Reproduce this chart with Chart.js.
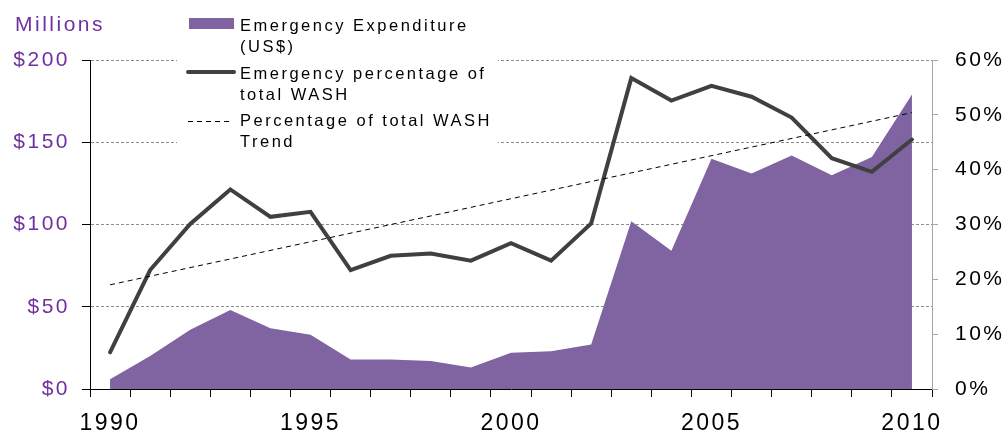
<!DOCTYPE html>
<html>
<head>
<meta charset="utf-8">
<script src="https://cdn.jsdelivr.net/npm/chart.js@4"></script>
<style>
  html, body { margin: 0; padding: 0; background: #fff; }
  #wrap { width: 1008px; height: 434px; }
</style>
</head>
<body>
<div id="wrap"><canvas id="chart" width="1008" height="434"></canvas></div>
<script>
// years on the category axis
const years = ['1990','1991','1992','1993','1994','1995','1996','1997','1998','1999','2000',
               '2001','2002','2003','2004','2005','2006','2007','2008','2009','2010'];

// emergency expenditure, US$ millions (left axis)
const expenditure = [6, 20, 36, 48, 37, 33, 18, 18, 17, 13, 22,
                     23, 27, 102, 84, 140, 131, 142, 130, 141, 179];

// emergency share of total WASH, % (right axis)
const emergencyPct = [6.7, 21.7, 30.1, 36.4, 31.4, 32.3, 21.7, 24.3, 24.7, 23.4, 26.6,
                      23.4, 30.2, 56.7, 52.6, 55.3, 53.3, 49.5, 42.1, 39.6, 45.5];

// trend line end points (right axis)
const trendYears = ['1990', '2010'];
const trendPct = [19.0, 50.4];

// axis tick labels shown on the year axis
const shownYears = ['1990', '1995', '2000', '2005', '2010'];

const legendItems = [
  { kind: 'area', lines: ['Emergency Expenditure', '(US$)'] },
  { kind: 'line', lines: ['Emergency percentage of', 'total WASH'] },
  { kind: 'dash', lines: ['Percentage of total WASH', 'Trend'] }
];

const FONT = "'Liberation Sans', Arial, sans-serif";
const SPACING = '2.5px';
const PURPLE = '#8064A2';
const LABEL_PURPLE = '#7030A0';

// canvas state gets reset on resize, so set letter spacing before every pass
const spacingPlugin = {
  id: 'spacing',
  beforeUpdate(chart) { chart.ctx.letterSpacing = SPACING; },
  beforeLayout(chart) { chart.ctx.letterSpacing = SPACING; },
  beforeDraw(chart) { chart.ctx.letterSpacing = SPACING; }
};

// "Millions" caption and the boxed legend in the top left of the plot
const extrasPlugin = {
  id: 'extras',
  afterDraw(chart) {
    const ctx = chart.ctx;
    ctx.save();
    ctx.letterSpacing = SPACING;
    ctx.font = '21px ' + FONT;
    ctx.fillStyle = LABEL_PURPLE;
    ctx.textAlign = 'left';
    ctx.textBaseline = 'middle';
    ctx.fillText('Millions', 15, 25);

    // white backing hides the grid lines behind the legend
    ctx.fillStyle = '#fff';
    ctx.fillRect(177, 0, 321, 152);

    const rowY = [26, 74, 121];
    ctx.font = '16.5px ' + FONT;
    legendItems.forEach((item, i) => {
      const y = rowY[i];
      if (item.kind === 'area') {
        ctx.fillStyle = PURPLE;
        ctx.fillRect(189, y - 8, 45, 11);
      } else if (item.kind === 'line') {
        ctx.strokeStyle = '#404040';
        ctx.lineWidth = 4;
        ctx.lineCap = 'round';
        ctx.setLineDash([]);
        ctx.beginPath();
        ctx.moveTo(188, y - 2);
        ctx.lineTo(234, y - 2);
        ctx.stroke();
      } else {
        ctx.strokeStyle = '#000';
        ctx.lineWidth = 1;
        ctx.lineCap = 'butt';
        ctx.setLineDash([5, 4]);
        ctx.beginPath();
        ctx.moveTo(188, y + 0.5);
        ctx.lineTo(232, y + 0.5);
        ctx.stroke();
        ctx.setLineDash([]);
      }
      ctx.fillStyle = '#000';
      item.lines.forEach((t, j) => {
        ctx.fillText(t, 240, y + j * 21);
      });
    });
    ctx.restore();
  }
};

const ctx = document.getElementById('chart');

new Chart(ctx, {
  type: 'line',
  data: {
    labels: years,
    datasets: [
      {
        label: 'Percentage of total WASH Trend',
        data: trendYears.map((y, i) => ({ x: y, y: trendPct[i] })),
        yAxisID: 'y1',
        borderColor: '#000',
        borderWidth: 1,
        borderDash: [5, 4],
        pointRadius: 0,
        fill: false,
        order: 0
      },
      {
        label: 'Emergency percentage of total WASH',
        data: emergencyPct,
        yAxisID: 'y1',
        borderColor: '#404040',
        borderWidth: 4,
        borderCapStyle: 'round',
        pointRadius: 0,
        tension: 0,
        fill: false,
        order: 1
      },
      {
        label: 'Emergency Expenditure (US$)',
        data: expenditure,
        yAxisID: 'y',
        borderWidth: 0,
        borderColor: PURPLE,
        backgroundColor: PURPLE,
        pointRadius: 0,
        tension: 0,
        fill: 'origin',
        order: 2
      }
    ]
  },
  options: {
    responsive: false,
    animation: false,
    layout: { padding: { top: 60, left: 0, right: 0, bottom: 0 } },
    plugins: {
      legend: { display: false },
      tooltip: { enabled: false }
    },
    scales: {
      x: {
        type: 'category',
        offset: true,
        grid: {
          offset: true,
          drawOnChartArea: false,
          drawTicks: true,
          tickLength: 8,
          color: '#000',
          tickColor: '#000'
        },
        border: { display: true, color: '#000', width: 1 },
        ticks: {
          autoSkip: false,
          maxRotation: 0,
          minRotation: 0,
          padding: 13,
          color: '#000',
          font: { family: FONT, size: 23 },
          callback: function(value, index) {
            const yr = years[index];
            return shownYears.includes(yr) ? yr : '';
          }
        },
        afterFit: s => { s.height = 45; }
      },
      y: {
        position: 'left',
        min: 0,
        max: 200,
        grid: {
          drawTicks: true,
          tickLength: 8,
          tickColor: '#000',
          tickBorderDash: [],
          color: c => c.index === 0 ? 'rgba(0,0,0,0)' : '#8c8c8c',
          lineWidth: 1
        },
        border: { display: true, color: '#000', width: 1, dash: [3, 2] },
        ticks: {
          stepSize: 50,
          padding: 12,
          color: LABEL_PURPLE,
          font: { family: FONT, size: 21 },
          callback: v => '$' + v
        },
        afterFit: s => { s.width = 90; }
      },
      y1: {
        position: 'right',
        min: 0,
        max: 60,
        grid: {
          drawOnChartArea: false,
          drawTicks: true,
          tickLength: 6,
          color: '#a6a6a6',
          tickColor: '#a6a6a6'
        },
        border: { display: true, color: '#a6a6a6', width: 1 },
        ticks: {
          stepSize: 10,
          padding: 17,
          color: '#000',
          font: { family: FONT, size: 21 },
          callback: v => v + '%'
        },
        afterFit: s => { s.width = 76; }
      }
    }
  },
  plugins: [spacingPlugin, extrasPlugin]
});
</script>
</body>
</html>
